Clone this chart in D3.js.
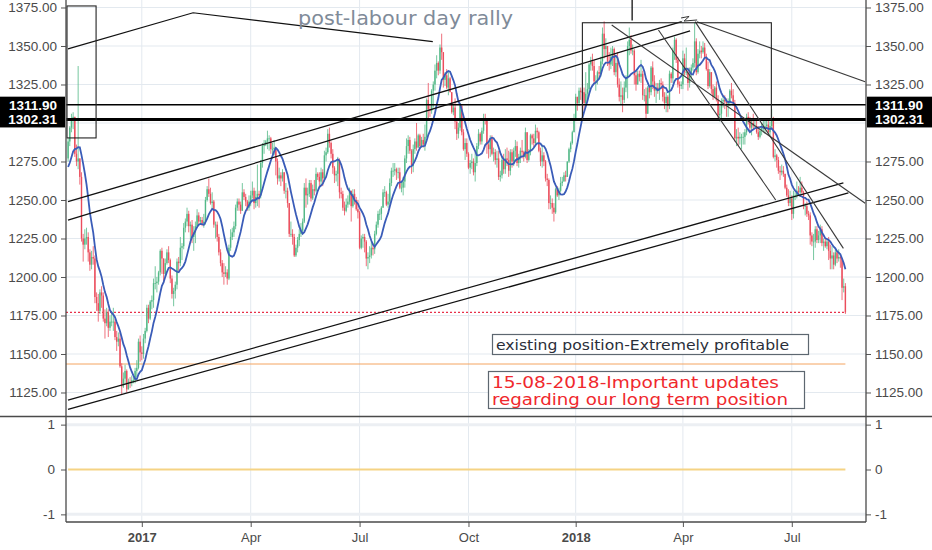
<!DOCTYPE html>
<html>
<head>
<meta charset="utf-8">
<script src="https://cdnjs.cloudflare.com/ajax/libs/d3/7.8.5/d3.min.js"></script>
<style>
  body { margin: 0; background: #fff; }
  svg { display: block; font-family: "Liberation Sans", Arial, sans-serif; }
</style>
</head>
<body>
<div id="chart"></div>
<script>
// daily gold bars, one row per month (Nov 2016 .. Aug 2018)
const months = ["2016-11","2016-12","2017-01","2017-02","2017-03","2017-04","2017-05","2017-06","2017-07","2017-08","2017-09","2017-10","2017-11","2017-12","2018-01","2018-02","2018-03","2018-04","2018-05","2018-06","2018-07","2018-08"];

// late Oct 2016 closes, only used to start the moving average
const warmup = [1269,1267,1267,1264,1273,1267,1266,1276,1277];

const closes = [
  [1288,1297,1303,1304,1280,1275,1277,1265,1225,1221,1225,1226,1216,1208,1213,1212,1187,1183,1178,1190,1188,1173],
  [1170,1177,1167,1171,1171,1171,1161,1158,1160,1142,1129,1134,1139,1127,1132,1131,1133,1133,1139,1141,1158,1151],
  [1150,1160,1165,1180,1173,1184,1185,1196,1196,1197,1203,1217,1212,1202,1209,1216,1211,1199,1189,1191,1195,1210],
  [1209,1219,1220,1232,1236,1241,1233,1234,1226,1229,1233,1240,1236,1237,1235,1236,1250,1257,1254,1248],
  [1249,1234,1234,1226,1216,1209,1203,1202,1203,1199,1219,1226,1229,1233,1245,1249,1247,1243,1255,1252,1249,1245,1249],
  [1253,1256,1248,1252,1254,1253,1274,1285,1286,1288,1290,1290,1283,1283,1284,1275,1264,1266,1264,1268],
  [1256,1256,1248,1228,1228,1226,1214,1219,1224,1228,1230,1236,1258,1253,1254,1261,1251,1257,1256,1267,1265,1262,1268],
  [1264,1279,1281,1293,1287,1280,1271,1266,1267,1276,1255,1254,1245,1243,1247,1249,1256,1246,1254,1250,1244,1242],
  [1219,1225,1226,1223,1212,1213,1214,1219,1218,1228,1234,1241,1241,1245,1255,1255,1247,1249,1261,1269,1269],
  [1270,1268,1268,1258,1258,1262,1277,1285,1289,1282,1272,1283,1288,1284,1292,1285,1289,1286,1291,1315,1309,1308,1321],
  [1325,1334,1339,1334,1349,1346,1328,1331,1323,1329,1320,1307,1310,1301,1293,1297,1311,1294,1283,1287,1280],
  [1271,1274,1275,1268,1274,1285,1293,1288,1295,1303,1302,1286,1283,1290,1280,1281,1276,1277,1265,1266,1276,1270],
  [1277,1276,1269,1281,1275,1282,1285,1274,1278,1282,1281,1278,1294,1276,1281,1292,1290,1287,1295,1294,1282,1275],
  [1279,1275,1264,1263,1248,1248,1245,1242,1257,1253,1256,1261,1262,1266,1265,1275,1283,1287,1294,1303],
  [1317,1313,1321,1320,1320,1313,1319,1322,1338,1340,1337,1327,1327,1333,1332,1340,1358,1348,1350,1340,1338,1343],
  [1348,1333,1339,1325,1317,1318,1315,1323,1329,1350,1354,1347,1347,1331,1325,1332,1330,1332,1318,1318],
  [1306,1323,1320,1336,1327,1321,1323,1321,1326,1325,1317,1313,1317,1311,1332,1329,1347,1354,1341,1325,1324,1325],
  [1342,1333,1333,1326,1332,1336,1339,1353,1333,1345,1347,1346,1349,1343,1335,1324,1333,1322,1317,1323,1315],
  [1305,1306,1314,1315,1314,1313,1313,1321,1318,1313,1290,1291,1290,1291,1291,1291,1294,1304,1302,1297,1300,1298,1298],
  [1294,1291,1295,1297,1298,1298,1299,1294,1298,1302,1278,1279,1276,1269,1268,1269,1267,1258,1253,1248,1251],
  [1241,1253,1253,1256,1255,1258,1255,1246,1246,1241,1240,1227,1223,1223,1231,1224,1227,1231,1222,1223,1220,1223],
  [1217,1212,1214,1208,1216,1212,1213,1212,1193,1194,1177]
];

const highs = [
  [1290,1298,1306,1307,1288,1286,1337,1276,1268,1228,1231,1232,1229,1218,1217,1220,1214,1190,1189,1192,1194,1190],
  [1179,1180,1179,1175,1178,1180,1173,1165,1164,1164,1144,1138,1143,1140,1134,1135,1136,1135,1141,1146,1160,1162],
  [1155,1163,1167,1182,1182,1185,1188,1199,1207,1200,1204,1218,1219,1210,1212,1218,1220,1212,1201,1193,1197,1212],
  [1213,1226,1222,1235,1238,1245,1243,1236,1237,1233,1236,1244,1242,1239,1239,1241,1252,1259,1264,1258],
  [1255,1250,1236,1236,1228,1218,1211,1209,1207,1205,1221,1231,1232,1236,1247,1251,1251,1249,1261,1257,1254,1250,1253],
  [1256,1262,1258,1256,1273,1256,1276,1287,1289,1289,1295,1292,1291,1287,1289,1278,1277,1271,1268,1270],
  [1268,1261,1258,1248,1236,1231,1228,1221,1226,1231,1235,1238,1261,1264,1258,1263,1263,1260,1263,1271,1268,1268,1271],
  [1270,1282,1284,1296,1297,1288,1283,1272,1269,1278,1277,1258,1256,1249,1251,1253,1258,1256,1257,1257,1252,1250],
  [1243,1227,1228,1228,1224,1216,1220,1224,1222,1230,1236,1243,1244,1246,1257,1259,1256,1254,1264,1271,1274],
  [1274,1271,1271,1271,1262,1265,1279,1290,1292,1291,1283,1286,1290,1300,1293,1293,1291,1293,1299,1316,1326,1312,1322],
  [1327,1338,1344,1340,1351,1358,1337,1333,1335,1333,1330,1319,1312,1316,1300,1300,1313,1312,1296,1290,1290],
  [1281,1276,1280,1277,1281,1287,1296,1294,1297,1306,1306,1303,1287,1292,1292,1284,1283,1282,1282,1269,1278,1280],
  [1283,1284,1282,1283,1283,1284,1289,1288,1280,1284,1289,1282,1297,1294,1283,1293,1293,1293,1299,1297,1295,1284],
  [1286,1281,1276,1267,1264,1253,1251,1248,1258,1259,1258,1265,1265,1268,1269,1275,1284,1288,1295,1306],
  [1319,1317,1323,1323,1322,1323,1333,1326,1339,1343,1345,1341,1331,1334,1337,1343,1362,1366,1355,1349,1346,1349],
  [1350,1349,1344,1346,1329,1327,1323,1327,1331,1353,1362,1357,1351,1348,1334,1334,1334,1341,1334,1322],
  [1323,1324,1324,1337,1340,1331,1326,1326,1328,1329,1327,1320,1320,1318,1334,1333,1349,1356,1355,1343,1327,1327],
  [1347,1345,1349,1336,1336,1338,1342,1365,1355,1348,1353,1350,1353,1352,1345,1340,1335,1333,1325,1324,1327],
  [1318,1311,1316,1318,1318,1316,1316,1322,1326,1322,1315,1296,1297,1294,1293,1294,1296,1306,1307,1304,1303,1306,1303],
  [1303,1298,1297,1300,1303,1302,1303,1302,1301,1309,1304,1283,1280,1278,1272,1273,1272,1267,1260,1257,1256],
  [1253,1256,1255,1262,1259,1265,1262,1256,1248,1249,1243,1242,1229,1228,1233,1233,1230,1234,1233,1225,1225,1225],
  [1226,1221,1220,1216,1219,1217,1218,1214,1212,1199,1196]
];

const lows = [
  [1275,1285,1294,1296,1278,1272,1270,1260,1223,1210,1218,1221,1210,1204,1205,1208,1183,1178,1171,1176,1180,1171],
  [1160,1168,1161,1165,1168,1165,1159,1152,1155,1141,1124,1128,1130,1125,1128,1128,1129,1131,1131,1135,1140,1145],
  [1146,1147,1157,1164,1170,1172,1179,1180,1192,1190,1195,1201,1202,1196,1200,1208,1209,1196,1186,1181,1186,1192],
  [1204,1207,1211,1218,1229,1233,1229,1224,1222,1217,1222,1232,1234,1234,1233,1232,1234,1249,1252,1247],
  [1244,1232,1225,1223,1214,1207,1200,1195,1200,1195,1198,1217,1224,1226,1231,1243,1243,1241,1243,1250,1246,1243,1243],
  [1246,1251,1244,1245,1246,1245,1251,1271,1280,1285,1283,1282,1280,1279,1279,1266,1260,1262,1259,1262],
  [1254,1251,1245,1226,1226,1221,1213,1213,1216,1220,1226,1228,1235,1245,1247,1252,1249,1250,1253,1255,1263,1258,1259],
  [1259,1262,1275,1280,1284,1277,1267,1261,1262,1259,1251,1251,1243,1240,1242,1245,1247,1236,1245,1247,1243,1238],
  [1218,1218,1219,1216,1207,1205,1209,1212,1214,1215,1227,1232,1237,1237,1245,1252,1246,1245,1247,1259,1265],
  [1266,1263,1264,1257,1255,1253,1258,1274,1280,1280,1267,1268,1280,1282,1284,1283,1284,1284,1282,1290,1302,1304,1306],
  [1310,1321,1329,1331,1332,1341,1323,1324,1322,1318,1320,1306,1305,1296,1289,1290,1295,1292,1282,1276,1278],
  [1270,1267,1270,1266,1262,1272,1283,1286,1286,1293,1299,1280,1277,1278,1279,1275,1273,1271,1263,1262,1264,1267],
  [1267,1272,1265,1266,1271,1272,1278,1272,1271,1274,1277,1275,1277,1274,1275,1279,1286,1284,1285,1290,1281,1272],
  [1271,1272,1262,1259,1244,1244,1241,1236,1241,1252,1250,1255,1259,1262,1262,1265,1274,1281,1286,1294],
  [1303,1308,1311,1315,1314,1308,1311,1315,1319,1334,1334,1325,1321,1325,1329,1330,1338,1342,1343,1337,1334,1335],
  [1337,1331,1330,1323,1314,1312,1307,1313,1320,1316,1344,1345,1344,1325,1321,1325,1327,1326,1315,1314],
  [1303,1306,1316,1318,1322,1317,1313,1319,1315,1322,1314,1309,1307,1307,1309,1326,1326,1341,1339,1323,1319,1322],
  [1322,1331,1331,1321,1323,1328,1334,1336,1331,1332,1342,1342,1345,1342,1334,1322,1323,1319,1315,1316,1314],
  [1302,1301,1303,1310,1309,1304,1304,1311,1316,1311,1288,1285,1285,1286,1283,1286,1286,1292,1299,1295,1292,1296,1297],
  [1293,1289,1290,1292,1294,1293,1296,1292,1291,1296,1277,1275,1271,1267,1263,1266,1265,1257,1252,1246,1246],
  [1237,1238,1250,1251,1253,1253,1254,1244,1240,1239,1237,1221,1220,1211,1219,1222,1222,1222,1220,1217,1219,1218],
  [1211,1205,1205,1205,1207,1209,1210,1206,1185,1190,1176]
];

const maLength = 10;
const priceTicks = [1125,1150,1175,1200,1225,1250,1275,1300,1325,1350,1375];
const tickMonths = ["2017-01","2017-04","2017-07","2017-10","2018-01","2018-04","2018-07"];
const tickLabels = ["2017","Apr","Jul","Oct","2018","Apr","Jul"];
const levels = [1311.90, 1302.31];
const lastPriceLine = 1177;
const orangeLevel = 1143.5;
const subTicks = [1, 0, -1];

// drawings, in [bar index, price]
const rallyPath = [[-0.06,1348.1],[74.6,1371.6],[217.7,1352.8]];
const channelLines = [
  [-0.06,1248.9,366.3,1365.8],
  [-0.06,1237.0,371.3,1359.9],
  [-0.06,1120.1,462.8,1261.2],
  [-0.06,1114.1,465.8,1254.7]
];
const fanLines = [
  [324.5,1363.6,475.8,1247.9],
  [352.4,1360.4,422.4,1250.0],
  [374.3,1365.8,462.8,1218.6],
  [375.3,1365.8,475.8,1326.8]
];
const boxes = [[-0.66,1376.0,16.7,1290.3],[307.0,1365.1,419.8,1302.31]];
const zigzag = [[365.9,1368.2],[370.7,1369.2],[367.7,1366.2],[375.5,1366.9]];
const marker = [336.7,1380,1366.6];

// build bars
let bars = [];
let monthStart = {};
let prev = warmup[warmup.length - 1];
months.forEach((m, mi) => {
  monthStart[m] = bars.length;
  closes[mi].forEach((c, di) => {
    let h = highs[mi][di], l = lows[mi][di];
    bars.push({i: bars.length, o: prev, c: c, h: Math.max(h, prev, c), l: Math.min(l, prev, c)});
    prev = c;
  });
});
let allCloses = warmup.concat(bars.map(d => d.c));
let ma = bars.map((d, k) => {
  let j = k + warmup.length;
  return {i: d.i, v: d3.mean(allCloses.slice(j - maLength + 1, j + 1))};
});

let svgWidth = 932, svgHeight = 550;
let plot = {left: 66, right: 866, top: 0, bottom: 416};
let sub = {top: 417, bottom: 522};

let svg = d3.select('#chart').append('svg')
  .attr('width', svgWidth).attr('height', svgHeight);

let x = d3.scaleLinear().domain([-1.254, 476.3]).range([plot.left, plot.right]);
let y = d3.scaleLinear().domain([1109.74, 1379.87]).range([plot.bottom, plot.top]);
let ySub = d3.scaleLinear().domain([-1.17, 1.17]).range([sub.bottom, sub.top]);

let tickIdx = tickMonths.map(m => monthStart[m]);
// price labels hidden behind the level boxes are not drawn
let labelTicks = priceTicks.filter(p => levels.every(lv => Math.abs(y(p) - y(lv)) > 12));

svg.append('defs').append('clipPath').attr('id', 'mainclip')
  .append('rect').attr('x', plot.left).attr('y', plot.top)
  .attr('width', plot.right - plot.left).attr('height', plot.bottom - plot.top);

// grid
let grid = svg.append('g');
grid.selectAll('.vg').data(tickIdx).enter().append('line')
  .attr('x1', d => x(d)).attr('x2', d => x(d)).attr('y1', 0).attr('y2', sub.bottom)
  .attr('stroke', '#e3e9ef').attr('stroke-width', 1);
grid.selectAll('.hg').data(priceTicks).enter().append('line')
  .attr('x1', plot.left).attr('x2', plot.right).attr('y1', d => y(d)).attr('y2', d => y(d))
  .attr('stroke', '#e3e9ef').attr('stroke-width', 1);
grid.selectAll('.sg').data([1, -1]).enter().append('line')
  .attr('x1', plot.left).attr('x2', plot.right).attr('y1', d => ySub(d)).attr('y2', d => ySub(d))
  .attr('stroke', '#eceff3').attr('stroke-width', 3);

let main = svg.append('g').attr('clip-path', 'url(#mainclip)');

// orange line and last price dotted line
main.append('line')
  .attr('x1', plot.left).attr('x2', x(bars.length - 1))
  .attr('y1', y(orangeLevel)).attr('y2', y(orangeLevel))
  .attr('stroke', '#f4a460').attr('stroke-width', 1);
main.append('line')
  .attr('x1', plot.left).attr('x2', x(bars.length - 1))
  .attr('y1', y(lastPriceLine)).attr('y2', y(lastPriceLine))
  .attr('stroke', '#e8304a').attr('stroke-width', 1.2).attr('stroke-dasharray', '2,2');

// candles
let up = '#53b987', down = '#eb4d5c';
let candles = main.selectAll('.candle').data(bars).enter().append('g');
candles.append('line')
  .attr('x1', d => x(d.i)).attr('x2', d => x(d.i))
  .attr('y1', d => y(d.h)).attr('y2', d => y(d.l))
  .attr('stroke', d => d.c >= d.o ? up : down).attr('stroke-width', 0.8);
candles.append('rect')
  .attr('x', d => x(d.i) - 0.7).attr('width', 1.4)
  .attr('y', d => y(Math.max(d.o, d.c)))
  .attr('height', d => Math.max(0.8, Math.abs(y(d.o) - y(d.c))))
  .attr('fill', d => d.c >= d.o ? up : down);

// moving average
main.append('path').datum(ma)
  .attr('d', d3.line().x(d => x(d.i)).y(d => y(d.v)))
  .attr('fill', 'none').attr('stroke', '#3a5cb8').attr('stroke-width', 1.8);

// horizontal levels
main.selectAll('.lvl').data(levels).enter().append('line')
  .attr('x1', plot.left).attr('x2', plot.right)
  .attr('y1', d => y(d)).attr('y2', d => y(d))
  .attr('stroke', '#000').attr('stroke-width', (d, k) => k === 0 ? 1.5 : 3);

// drawings
main.append('path').datum(rallyPath)
  .attr('d', d3.line().x(d => x(d[0])).y(d => y(d[1])))
  .attr('fill', 'none').attr('stroke', '#111').attr('stroke-width', 1.2);
main.selectAll('.ch').data(channelLines).enter().append('line')
  .attr('x1', d => x(d[0])).attr('y1', d => y(d[1]))
  .attr('x2', d => x(d[2])).attr('y2', d => y(d[3]))
  .attr('stroke', '#111').attr('stroke-width', 1.3);
main.selectAll('.fan').data(fanLines).enter().append('line')
  .attr('x1', d => x(d[0])).attr('y1', d => y(d[1]))
  .attr('x2', d => x(d[2])).attr('y2', d => y(d[3]))
  .attr('stroke', '#3a3a3a').attr('stroke-width', 1.1);
main.selectAll('.box').data(boxes).enter().append('rect')
  .attr('x', d => x(d[0])).attr('y', d => y(d[1]))
  .attr('width', d => x(d[2]) - x(d[0])).attr('height', d => y(d[3]) - y(d[1]))
  .attr('fill', 'none').attr('stroke', '#222').attr('stroke-width', 1.1);
main.append('path').datum(zigzag)
  .attr('d', d3.line().x(d => x(d[0])).y(d => y(d[1])))
  .attr('fill', 'none').attr('stroke', '#333').attr('stroke-width', 1);
main.append('line')
  .attr('x1', x(marker[0])).attr('x2', x(marker[0]))
  .attr('y1', y(marker[1])).attr('y2', y(marker[2]))
  .attr('stroke', '#111').attr('stroke-width', 1.3);

// notes
svg.append('text')
  .attr('x', 298).attr('y', 25)
  .attr('font-family', '"DejaVu Sans", Verdana, sans-serif')
  .attr('font-size', 20).attr('fill', '#7f8b99')
  .attr('textLength', 215).attr('lengthAdjust', 'spacingAndGlyphs')
  .text('post-labour day rally');

svg.append('rect').attr('x', 492.5).attr('y', 334.5).attr('width', 316).attr('height', 20)
  .attr('fill', '#fff').attr('stroke', '#5d6770').attr('stroke-width', 1.2);
svg.append('text')
  .attr('x', 496).attr('y', 349.5)
  .attr('font-family', '"DejaVu Sans", Verdana, sans-serif')
  .attr('font-size', 14).attr('fill', '#2a2e39')
  .attr('textLength', 293).attr('lengthAdjust', 'spacingAndGlyphs')
  .text('existing position-Extremely profitable');

svg.append('rect').attr('x', 488.5).attr('y', 371.5).attr('width', 316).attr('height', 37)
  .attr('fill', '#fff').attr('stroke', '#5d6770').attr('stroke-width', 1.2);
let red = svg.append('g')
  .attr('font-family', '"DejaVu Sans", Verdana, sans-serif')
  .attr('font-size', 15).attr('fill', '#f0282d');
red.append('text').attr('x', 492).attr('y', 388)
  .attr('textLength', 287).attr('lengthAdjust', 'spacingAndGlyphs')
  .text('15-08-2018-Important updates');
red.append('text').attr('x', 492).attr('y', 404.5)
  .attr('textLength', 296).attr('lengthAdjust', 'spacingAndGlyphs')
  .text('regarding our long term position');

// sub panel zero line
svg.append('line')
  .attr('x1', x(0)).attr('x2', x(bars.length - 1))
  .attr('y1', ySub(0)).attr('y2', ySub(0))
  .attr('stroke', '#f5d384').attr('stroke-width', 2);

// axes
function styleAxis(g) {
  g.select('.domain').remove();
  g.selectAll('.tick line').attr('stroke', '#555');
  g.selectAll('.tick text').attr('fill', '#4a4a4a')
    .attr('font-size', 13.5).attr('font-family', '"Liberation Sans", Arial, sans-serif');
}
svg.append('g').attr('transform', `translate(${plot.left},0)`)
  .call(d3.axisLeft(y).tickValues(labelTicks).tickFormat(d3.format('.2f')).tickSize(5).tickPadding(4))
  .call(styleAxis);
svg.append('g').attr('transform', `translate(${plot.right},0)`)
  .call(d3.axisRight(y).tickValues(labelTicks).tickFormat(d3.format('.2f')).tickSize(5).tickPadding(4))
  .call(styleAxis);
svg.append('g').attr('transform', `translate(${plot.left},0)`)
  .call(d3.axisLeft(ySub).tickValues(subTicks).tickFormat(d => String(d)).tickSize(5).tickPadding(6))
  .call(styleAxis);
svg.append('g').attr('transform', `translate(${plot.right},0)`)
  .call(d3.axisRight(ySub).tickValues(subTicks).tickFormat(d => String(d)).tickSize(5).tickPadding(4))
  .call(styleAxis);
let xAxis = svg.append('g').attr('transform', `translate(0,${sub.bottom})`)
  .call(d3.axisBottom(x).tickValues(tickIdx).tickFormat((d, k) => tickLabels[k]).tickSize(5).tickPadding(6))
  .call(styleAxis);
xAxis.selectAll('.tick text').attr('font-size', 13)
  .attr('font-weight', (d, k) => /^\d/.test(tickLabels[k]) ? 'bold' : 'normal');

// frame
let frame = svg.append('g').attr('stroke', '#4a4a4a').attr('stroke-width', 1.3);
frame.append('line').attr('x1', plot.left).attr('x2', plot.left).attr('y1', 0).attr('y2', sub.bottom);
frame.append('line').attr('x1', plot.right).attr('x2', plot.right).attr('y1', 0).attr('y2', sub.bottom);
frame.append('line').attr('x1', plot.left).attr('x2', plot.right).attr('y1', sub.bottom).attr('y2', sub.bottom);
frame.append('line').attr('x1', 0).attr('x2', svgWidth).attr('y1', plot.bottom + 0.5).attr('y2', plot.bottom + 0.5);

// price labels for the two levels
levels.forEach(lv => {
  let cy = y(lv);
  svg.append('rect').attr('x', 0).attr('y', cy - 8).attr('width', plot.left - 1).attr('height', 16).attr('fill', '#000');
  svg.append('rect').attr('x', plot.right + 1).attr('y', cy - 8).attr('width', svgWidth - plot.right - 1).attr('height', 16).attr('fill', '#000');
  svg.append('text').attr('x', plot.left - 9).attr('y', cy + 5)
    .attr('text-anchor', 'end').attr('fill', '#fff').attr('font-weight', 'bold').attr('font-size', 13.5)
    .text(d3.format('.2f')(lv));
  svg.append('text').attr('x', plot.right + 9).attr('y', cy + 5)
    .attr('fill', '#fff').attr('font-weight', 'bold').attr('font-size', 13.5)
    .text(d3.format('.2f')(lv));
});
</script>
</body>
</html>
